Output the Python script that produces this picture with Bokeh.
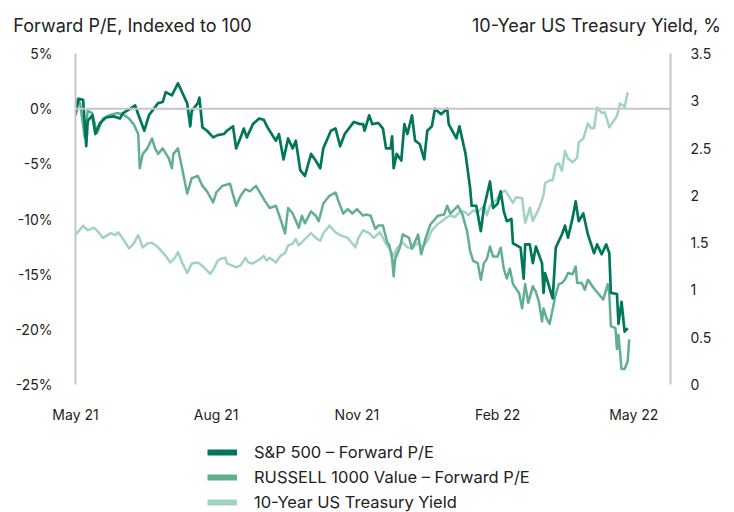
from datetime import datetime
import pandas as pd
from bokeh.plotting import figure
from bokeh.layouts import column
from bokeh.models import (Range1d, LinearAxis, FixedTicker, CustomJSTickFormatter,
                          DatetimeTickFormatter, Span, Legend, LegendItem)
from bokeh.embed import file_html
from bokeh.resources import INLINE

# ---------------- data (day offsets from 2021-05-01) ----------------
start = "2021-05-01"

sp_days = [0, 2, 5, 7, 8, 11, 13, 16, 20, 25, 29, 31, 36, 39, 41, 45, 48, 54, 57, 59,
           63, 67, 70, 73, 75, 76, 80, 81, 83, 86, 90, 93, 97, 99, 103, 105, 108, 110, 112, 116,
           120, 123, 126, 131, 133, 136, 139, 142, 144, 147, 150, 154, 157, 160, 162, 167, 170, 173, 176, 182,
           186, 188, 189, 192, 194, 198, 201, 203, 206, 207, 208, 210, 213, 215, 217, 220, 222, 225, 228, 230,
           233, 235, 239, 243, 244, 249, 251, 255, 258, 259, 262, 265, 267, 271, 273, 276, 278, 280, 282, 285,
           286, 291, 293, 294, 297, 299, 301, 305, 306, 307, 312, 314, 318, 320, 322, 325, 327, 329, 332, 335,
           339, 341, 344, 347, 349, 350, 354, 355, 357, 359, 361]
sp_vals = [-0.6, 0.9, 0.8, -3.4, -1.1, -0.6, -2.3, -1.3, -0.8, -0.7, -0.9, -0.4, 0.0, 0.3, -0.5, -2.0, -0.6, 0.5, 0.6, 1.5,
           1.2, 2.3, 1.4, 0.5, -1.6, -0.2, 0.5, 1.0, -1.7, -2.0, -2.6, -2.4, -2.3, -2.0, -1.6, -3.6, -2.6, -1.8, -2.6, -1.4,
           -0.9, -1.0, -1.8, -2.9, -2.3, -4.6, -2.7, -3.6, -2.9, -5.6, -6.1, -4.1, -4.7, -5.4, -3.6, -2.0, -1.8, -3.4, -2.3, -1.2,
           -1.4, -1.4, -2.0, -0.6, -1.4, -1.3, -1.8, -3.6, -3.6, -2.5, -5.4, -4.1, -4.7, -1.4, -2.3, -0.6, -2.9, -3.2, -4.6, -2.0,
           -1.6, 0.0, -0.5, 0.0, -1.4, -2.7, -1.6, -4.1, -7.2, -8.8, -8.8, -11.1, -9.0, -6.6, -9.0, -8.6, -7.5, -9.3, -10.2, -10.0,
           -12.2, -12.6, -15.4, -12.3, -12.3, -14.0, -12.5, -14.0, -16.7, -14.9, -17.2, -12.6, -11.4, -10.6, -11.7, -9.9, -8.4, -10.2, -9.5, -11.4,
           -13.1, -12.3, -13.2, -12.3, -13.1, -16.7, -16.8, -19.5, -17.5, -20.2, -19.9]

ru_days = [0, 1, 3, 6, 8, 11, 14, 18, 22, 27, 31, 35, 38, 41, 42, 44, 47, 50, 52, 54,
           57, 61, 63, 64, 67, 70, 73, 76, 80, 83, 86, 90, 92, 96, 101, 105, 108, 111, 114, 118,
           121, 124, 127, 131, 134, 137, 139, 142, 146, 148, 150, 154, 157, 159, 162, 166, 170, 172, 175, 178,
           181, 184, 188, 190, 193, 196, 198, 201, 204, 205, 207, 208, 209, 212, 214, 218, 220, 224, 226, 229,
           232, 237, 241, 243, 245, 248, 250, 253, 256, 258, 260, 263, 265, 267, 269, 271, 273, 276, 278, 280,
           282, 284, 286, 290, 292, 294, 296, 299, 301, 303, 305, 306, 308, 310, 314, 316, 318, 320, 322, 325,
           327, 328, 331, 333, 335, 339, 342, 345, 348, 349, 350, 353, 354, 355, 357, 359, 361, 362]
ru_vals = [0.0, 0.8, 0.5, -2.6, -0.2, -0.4, -2.2, -0.9, -0.6, -0.4, -0.5, -0.9, -1.4, -2.3, -5.4, -4.1, -3.6, -2.7, -3.6, -4.1,
           -3.6, -4.5, -5.4, -4.1, -3.6, -5.6, -7.7, -6.3, -6.1, -7.0, -7.5, -8.5, -7.6, -7.0, -6.8, -8.8, -7.9, -7.3, -7.5, -7.0,
           -7.7, -8.4, -9.0, -8.8, -10.0, -11.3, -9.0, -9.5, -10.8, -9.7, -10.4, -9.3, -9.7, -10.2, -8.6, -7.9, -7.6, -8.4, -9.5, -9.1,
           -9.5, -9.1, -9.7, -9.6, -9.7, -10.9, -10.6, -10.6, -12.2, -12.3, -13.6, -15.2, -13.6, -12.6, -11.4, -11.7, -12.7, -11.4, -13.2, -11.7,
           -10.5, -9.7, -9.6, -8.8, -9.5, -9.1, -8.8, -9.6, -11.1, -12.9, -13.8, -14.0, -15.5, -14.0, -13.6, -12.5, -13.4, -13.4, -12.6, -14.5,
           -15.4, -14.5, -15.9, -16.7, -18.1, -15.9, -17.6, -16.1, -16.6, -17.5, -19.3, -18.1, -19.0, -19.5, -16.8, -15.9, -15.8, -15.5, -14.9, -15.0,
           -14.3, -15.8, -15.8, -16.4, -15.5, -16.3, -16.8, -17.3, -15.9, -16.8, -19.7, -19.9, -21.8, -20.5, -23.6, -23.6, -22.9, -20.9]

ty_days = [0, 5, 8, 12, 15, 18, 23, 26, 28, 31, 35, 38, 41, 44, 47, 50, 54, 59, 62, 65,
           67, 70, 73, 76, 80, 84, 88, 90, 93, 95, 98, 99, 105, 108, 111, 113, 116, 121, 123, 125,
           127, 131, 134, 137, 139, 142, 144, 146, 149, 154, 157, 160, 162, 166, 170, 173, 178, 181, 183, 185,
           188, 192, 195, 199, 203, 206, 208, 210, 214, 217, 220, 224, 227, 230, 233, 237, 240, 242, 245, 248,
           252, 255, 257, 260, 263, 267, 269, 271, 275, 278, 281, 283, 286, 288, 292, 294, 296, 297, 299, 303,
           306, 307, 310, 312, 314, 316, 318, 320, 322, 325, 328, 329, 332, 335, 337, 339, 341, 344, 346, 349,
           352, 354, 356, 358, 359, 361]
ty_vals = [1.58, 1.68, 1.63, 1.66, 1.61, 1.55, 1.60, 1.58, 1.61, 1.54, 1.44, 1.49, 1.58, 1.45, 1.49, 1.50, 1.45, 1.36, 1.29, 1.34,
           1.40, 1.28, 1.18, 1.28, 1.29, 1.24, 1.17, 1.21, 1.31, 1.33, 1.34, 1.28, 1.24, 1.26, 1.34, 1.29, 1.28, 1.33, 1.36, 1.31,
           1.34, 1.29, 1.36, 1.39, 1.47, 1.49, 1.54, 1.47, 1.52, 1.60, 1.55, 1.52, 1.60, 1.68, 1.61, 1.58, 1.55, 1.49, 1.45, 1.55,
           1.63, 1.60, 1.55, 1.61, 1.49, 1.42, 1.36, 1.44, 1.50, 1.45, 1.44, 1.50, 1.45, 1.52, 1.63, 1.70, 1.73, 1.76, 1.79, 1.77,
           1.84, 1.82, 1.79, 1.84, 1.82, 1.89, 1.79, 1.89, 1.95, 2.03, 2.05, 2.00, 1.92, 1.98, 1.97, 1.71, 1.81, 1.87, 1.73, 1.86,
           2.00, 2.13, 2.16, 2.16, 2.32, 2.34, 2.26, 2.47, 2.39, 2.35, 2.40, 2.56, 2.60, 2.76, 2.71, 2.71, 2.93, 2.87, 2.88, 2.72,
           2.79, 2.84, 2.97, 2.95, 2.93, 3.09]

tick_dates = ["2021-05-01", "2021-08-01", "2021-11-01", "2022-02-01", "2022-05-01"]
left_ticks = [-25, -20, -15, -10, -5, 0, 5]
right_ticks = [0, 0.5, 1, 1.5, 2, 2.5, 3, 3.5]

series_names = ["S&P 500 \u2013 Forward P/E", "RUSSELL 1000 Value \u2013 Forward P/E", "10-Year US Treasury Yield"]
axis_titles = ["Forward P/E, Indexed to 100", "10-Year US Treasury Yield, %"]

# ---------------- styling ----------------
C_SP = "#00775a"
C_RU = "#62af90"
C_TY = "#a0d3c2"
GRAY = "#c6c6c6"
FONT = "Inter"
TXT = "#222222"
W = 734
NAN = float("nan")


def to_dates(days):
    return pd.Timestamp(start) + pd.to_timedelta(days, unit="D")


def bare(fig):
    fig.outline_line_color = None
    fig.xgrid.visible = False
    fig.ygrid.visible = False
    fig.background_fill_color = "white"
    fig.border_fill_color = "white"


# ---------------- header: the two axis titles on one line ----------------
# frame of this strip is aligned with the chart frame (page px 75..670)
head = figure(width=W, height=43, x_range=Range1d(75, 670), y_range=Range1d(0, 1),
              y_axis_location=None, x_axis_location="below",
              output_backend="svg", toolbar_location=None,
              min_border_left=0, min_border_right=0, min_border_top=0, min_border_bottom=29)
bare(head)
hx = head.xaxis[0]
hx.ticker = FixedTicker(ticks=[132, 596])
hx.formatter = CustomJSTickFormatter(args=dict(labels=axis_titles), code="return labels[index];")
hx.axis_line_color = None
hx.major_tick_line_color = None
hx.minor_tick_line_color = None
hx.major_tick_out = 0
hx.major_tick_in = 0
hx.major_label_standoff = 0
hx.major_label_text_font = FONT
hx.major_label_text_font_size = "18px"
hx.major_label_text_color = TXT

# ---------------- main chart ----------------
p = figure(width=W, height=387,
           x_axis_type="datetime",
           x_range=Range1d(datetime(2021, 5, 1), datetime(2022, 5, 25)),
           y_range=Range1d(-25, 5),
           output_backend="svg", toolbar_location=None,
           min_border_left=75, min_border_right=64, min_border_top=10, min_border_bottom=46)
bare(p)
p.extra_y_ranges = {"yield": Range1d(0, 3.5)}

p.add_layout(Span(location=0, dimension="width", line_color=GRAY, line_width=2))

p.line(to_dates(ty_days), ty_vals, y_range_name="yield", line_color=C_TY, line_width=2.5, line_join="round")
p.line(to_dates(ru_days), ru_vals, line_color=C_RU, line_width=2.5, line_join="round")
p.line(to_dates(sp_days), sp_vals, line_color=C_SP, line_width=2.7, line_join="round")

xa = p.xaxis[0]
xa.ticker = FixedTicker(ticks=[pd.Timestamp(d).value / 1e6 for d in tick_dates])
xa.formatter = DatetimeTickFormatter(days="%b %y", months="%b %y", years="%b %y")
xa.axis_line_color = None
xa.major_tick_line_color = None
xa.minor_tick_line_color = None
xa.major_tick_out = 0
xa.major_tick_in = 0
xa.major_label_standoff = 21
xa.major_label_text_font = FONT
xa.major_label_text_font_size = "14px"
xa.major_label_text_color = TXT

ya = p.yaxis[0]
ya.ticker = FixedTicker(ticks=left_ticks)
ya.formatter = CustomJSTickFormatter(code="return tick + '%';")
ya.axis_line_color = GRAY
ya.axis_line_width = 2
ya.major_tick_line_color = None
ya.minor_tick_line_color = None
ya.major_tick_out = 0
ya.major_tick_in = 0
ya.major_label_standoff = 23
ya.major_label_text_font = FONT
ya.major_label_text_font_size = "14px"
ya.major_label_text_color = TXT

ra = LinearAxis(y_range_name="yield", ticker=FixedTicker(ticks=right_ticks),
                formatter=CustomJSTickFormatter(code="return tick.toString();"))
ra.axis_line_color = GRAY
ra.axis_line_width = 2
ra.major_tick_line_color = None
ra.minor_tick_line_color = None
ra.major_tick_out = 0
ra.major_tick_in = 0
ra.major_label_standoff = 20
ra.major_label_text_font = FONT
ra.major_label_text_font_size = "14px"
ra.major_label_text_color = TXT
p.add_layout(ra, "right")

# ---------------- legend strip ----------------
leg = figure(width=W, height=82, x_range=Range1d(0, 1), y_range=Range1d(0, 1),
             x_axis_location=None, y_axis_location=None,
             output_backend="svg", toolbar_location=None,
             min_border_left=0, min_border_right=0, min_border_top=0, min_border_bottom=0)
bare(leg)
r1 = leg.line([NAN], [NAN], line_color=C_SP, line_width=6)
r2 = leg.line([NAN], [NAN], line_color=C_RU, line_width=6)
r3 = leg.line([NAN], [NAN], line_color=C_TY, line_width=6)
legend = Legend(items=[LegendItem(label=series_names[0], renderers=[r1]),
                       LegendItem(label=series_names[1], renderers=[r2]),
                       LegendItem(label=series_names[2], renderers=[r3])],
                location=(132, 0), orientation="vertical",
                border_line_color=None, background_fill_alpha=0,
                label_text_font=FONT, label_text_font_size="16.5px", label_text_color=TXT,
                glyph_width=30, glyph_height=18, label_height=18, spacing=5,
                label_standoff=17, padding=0, margin=0)
leg.add_layout(legend, "center")

layout = column(head, p, leg, spacing=0)
open("out.html", "w").write(file_html(layout, INLINE))
